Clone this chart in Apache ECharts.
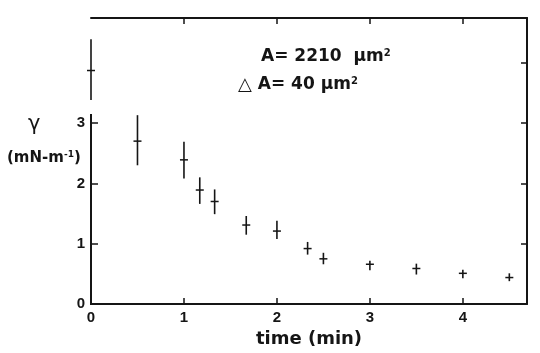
<!DOCTYPE html>
<html>
<head>
<meta charset="utf-8">
<script src="https://cdn.jsdelivr.net/npm/echarts@6/dist/echarts.min.js"></script>
<style>html,body{margin:0;padding:0;background:#fff;}#c{width:540px;height:353px;}</style>
</head>
<body>
<div id="c"></div>
<script>
// Data
const times     = [0, 0.5, 1, 1.17, 1.33, 1.67, 2, 2.33, 2.5, 3, 3.5, 4, 4.5];
const gammaMean = [3.87, 2.70, 2.39, 1.89, 1.70, 1.31, 1.21, 0.92, 0.75, 0.66, 0.59, 0.51, 0.44];
const gammaLow  = [3.38, 2.30, 2.08, 1.66, 1.49, 1.15, 1.08, 0.82, 0.66, 0.56, 0.49, 0.43, 0.38];
const gammaHigh = [4.39, 3.13, 2.69, 2.10, 1.90, 1.46, 1.38, 1.03, 0.85, 0.72, 0.67, 0.57, 0.51];
const xTickValues = [0, 1, 2, 3, 4];
const xTopTicks = [1, 2, 3, 4];
const yLabelValues = [0, 1, 2, 3];
const yLeftTicks = [1, 2, 3];
const yRightTicks = [1, 2, 3, 4];
const leftAxisTop = 3.15;
const xMax = 4.69, yMax = 4.74;

const ink = '#151515';
const data = times.map((t, i) => [t, gammaMean[i], gammaLow[i], gammaHigh[i]]);

const chart = echarts.init(document.getElementById('c'), null, {renderer: 'canvas'});
const tickFont = {fontFamily: 'Liberation Sans', fontWeight: 'bold', fontSize: 15, color: ink};

const option = {
  backgroundColor: '#fff',
  animation: false,
  grid: {left: 91, right: 13, top: 18, bottom: 46},
  xAxis: [
    {
      type: 'value', position: 'bottom', min: 0, max: xMax, interval: 1,
      axisLine: {show: true, onZero: false, lineStyle: {color: ink, width: 2}},
      axisTick: {show: true, inside: true, length: 6, lineStyle: {color: ink, width: 1.5}, customValues: xTickValues},
      axisLabel: Object.assign({margin: 6, customValues: xTickValues}, tickFont),
      splitLine: {show: false},
      name: 'time (min)', nameLocation: 'middle', nameGap: 25,
      nameTextStyle: {fontFamily: 'DejaVu Sans', fontWeight: 'bold', fontSize: 18, color: ink}
    },
    {
      type: 'value', position: 'top', min: 0, max: xMax, interval: 1,
      axisLine: {show: true, onZero: false, lineStyle: {color: ink, width: 2}},
      axisTick: {show: true, inside: true, length: 6, lineStyle: {color: ink, width: 1.5}, customValues: xTopTicks},
      axisLabel: {show: false},
      splitLine: {show: false}
    }
  ],
  yAxis: [
    {
      type: 'value', position: 'left', min: 0, max: yMax, interval: 1,
      axisLine: {show: false, onZero: false},
      axisTick: {show: true, inside: true, length: 7, lineStyle: {color: ink, width: 1.5}, customValues: yLeftTicks},
      axisLabel: Object.assign({margin: 6, customValues: yLabelValues}, tickFont),
      splitLine: {show: false}
    },
    {
      type: 'value', position: 'right', min: 0, max: yMax, interval: 1,
      axisLine: {show: true, onZero: false, lineStyle: {color: ink, width: 2}},
      axisTick: {show: true, inside: true, length: 6, lineStyle: {color: ink, width: 1.5}, customValues: yRightTicks},
      axisLabel: {show: false},
      splitLine: {show: false}
    }
  ],
  series: [{
    type: 'custom',
    xAxisIndex: 0, yAxisIndex: 0,
    clip: false,
    data: data,
    encode: {x: 0, y: [1, 2, 3]},
    renderItem: function (params, api) {
      const x = api.value(0);
      const pM = api.coord([x, api.value(1)]);
      const pLo = api.coord([x, api.value(2)]);
      const pHi = api.coord([x, api.value(3)]);
      return {
        type: 'group',
        children: [
          {type: 'line', shape: {x1: pLo[0], y1: pLo[1], x2: pHi[0], y2: pHi[1]}, style: {stroke: ink, lineWidth: 1.6}},
          {type: 'line', shape: {x1: pM[0] - 4, y1: pM[1], x2: pM[0] + 4, y2: pM[1]}, style: {stroke: ink, lineWidth: 1.5}}
        ]
      };
    }
  }]
};
chart.setOption(option);

// Partial left axis line (drawn through the chart's own scale)
const pA = chart.convertToPixel({gridIndex: 0}, [0, 0]);
const pB = chart.convertToPixel({gridIndex: 0}, [0, leftAxisTop]);

chart.setOption({
  graphic: [
    {type: 'line', shape: {x1: pA[0], y1: pA[1] + 1, x2: pB[0], y2: pB[1]}, style: {stroke: ink, lineWidth: 2}, z: 10},
    {
      type: 'text', left: 261, top: 48,
      style: {
        text: '{b|A= 2210  µm}{s|2}',
        rich: {
          b: {fontFamily: 'DejaVu Sans', fontWeight: 'bold', fontSize: 17, fill: ink},
          s: {fontFamily: 'DejaVu Sans', fontWeight: 'bold', fontSize: 10, fill: ink, verticalAlign: 'top', padding: [0, 0, 8, 0]}
        }
      }
    },
    {
      type: 'text', left: 238, top: 76,
      style: {
        text: '{t|△}{b| A= 40 µm}{s|2}',
        rich: {
          t: {fontFamily: 'DejaVu Sans', fontSize: 18, fill: ink},
          b: {fontFamily: 'DejaVu Sans', fontWeight: 'bold', fontSize: 17, fill: ink},
          s: {fontFamily: 'DejaVu Sans', fontWeight: 'bold', fontSize: 10, fill: ink, verticalAlign: 'top', padding: [0, 0, 8, 0]}
        }
      }
    },
    {
      type: 'text', left: 28, top: 114,
      style: {text: 'γ', fontFamily: 'DejaVu Sans', fontSize: 21, fill: ink}
    },
    {
      type: 'text', left: 7, top: 150,
      style: {
        text: '{b|(mN-m}{s|-1}{b|)}',
        rich: {
          b: {fontFamily: 'DejaVu Sans', fontWeight: 'bold', fontSize: 15, fill: ink},
          s: {fontFamily: 'DejaVu Sans', fontWeight: 'bold', fontSize: 9, fill: ink, verticalAlign: 'top', padding: [0, 0, 8, 0]}
        }
      }
    }
  ]
});
</script>
</body>
</html>
